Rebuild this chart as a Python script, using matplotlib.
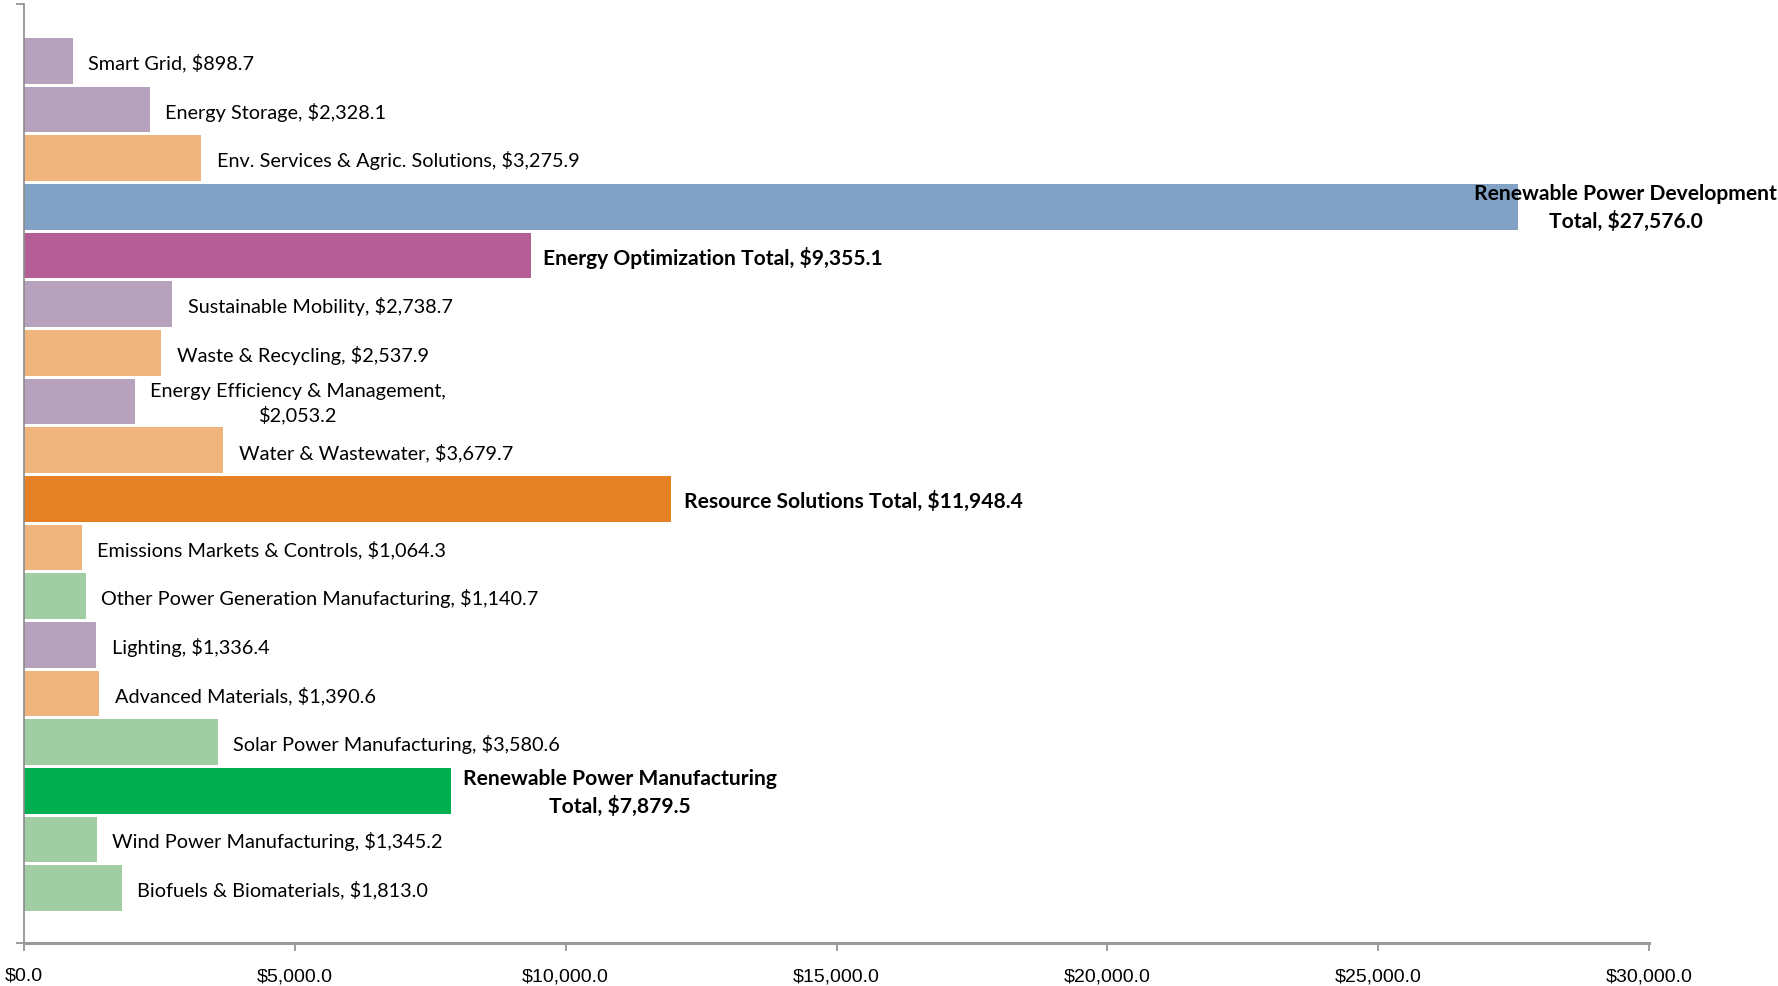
"""Green economy segment sizes, horizontal bar chart."""

import matplotlib
matplotlib.use("Agg")
import matplotlib.pyplot as plt
from matplotlib.ticker import FuncFormatter

# top to bottom, as shown in the chart
labels = [
    "Smart Grid",
    "Energy Storage",
    "Env. Services & Agric. Solutions",
    "Renewable Power Development\nTotal",
    "Energy Optimization Total",
    "Sustainable Mobility",
    "Waste & Recycling",
    "Energy Efficiency & Management,\n",
    "Water & Wastewater",
    "Resource Solutions Total",
    "Emissions Markets & Controls",
    "Other Power Generation Manufacturing",
    "Lighting",
    "Advanced Materials",
    "Solar Power Manufacturing",
    "Renewable Power Manufacturing\nTotal",
    "Wind Power Manufacturing",
    "Biofuels & Biomaterials",
]
values = [898.7, 2328.1, 3275.9, 27576.0, 9355.1, 2738.7, 2537.9, 2053.2, 3679.7,
          11948.4, 1064.3, 1140.7, 1336.4, 1390.6, 3580.6, 7879.5, 1345.2, 1813.0]
groups = ["opt", "opt", "res", "rpd_total", "opt_total", "opt", "res", "opt", "res",
          "res_total", "res", "rpm", "opt", "res", "rpm", "rpm_total", "rpm", "rpm"]
x_ticks = [0, 5000, 10000, 15000, 20000, 25000, 30000]

colors = {
    "opt": "#B7A2BD",
    "res": "#F0B47D",
    "rpm": "#A1CDA2",
    "rpd_total": "#82A2C5",
    "opt_total": "#B45E95",
    "res_total": "#E68024",
    "rpm_total": "#00B050",
}

LABEL_FONT = ["Lato", "DejaVu Sans"]
TICK_FONT = ["Liberation Sans Narrow", "Liberation Sans", "DejaVu Sans"]


def money(v):
    return f"${v:,.1f}"


def main():
    fig = plt.figure(figsize=(17.78, 9.86), dpi=100)
    ax = fig.add_axes([24 / 1778, 1 - 943 / 986, (1649 - 24) / 1778, (943 - 4) / 986])

    n = len(values)
    ypos = list(range(n - 1, -1, -1))
    ax.barh(ypos, values, height=0.94, color=[colors[g] for g in groups],
            edgecolor="none")

    for y, lab, v, g in zip(ypos, labels, values, groups):
        bold = g.endswith("_total")
        if lab.endswith("\n"):
            txt = lab + money(v)
        else:
            txt = f"{lab}, {money(v)}"
        kw = dict(va="center", fontsize=15.1 if bold else 14.3, family=LABEL_FONT,
                  fontweight="bold" if bold else "normal",
                  multialignment="center", linespacing=1.4, color="black")
        if g == "rpd_total":
            # Too long to fit after the bar: pinned to the right edge
            ax.annotate(txt, xy=(0.9995, y - 0.03), xycoords=("figure fraction", "data"),
                        ha="right", annotation_clip=False, **kw)
        else:
            ax.annotate(txt, xy=(v, y - 0.05), xytext=(9 if bold else 11, 0),
                        textcoords="offset points", ha="left", **kw)

    ax.set_xlim(0, 30000)
    ax.set_ylim(-1.13, n - 1 + 1.17)
    ax.set_xticks(x_ticks)
    ax.xaxis.set_major_formatter(FuncFormatter(lambda v, _: money(v)))
    ax.set_yticks(ax.get_ylim())
    ax.set_yticklabels([])

    for s in ("top", "right"):
        ax.spines[s].set_visible(False)
    ax.spines["left"].set_color("#8C8C8C")
    ax.spines["left"].set_linewidth(1.2)
    ax.spines["bottom"].set_color("#9A9A9A")
    ax.spines["bottom"].set_linewidth(2.2)
    ax.tick_params(axis="both", direction="out", length=6, width=1.2, color="#8C8C8C")
    ax.tick_params(axis="x", pad=12, labelsize=14)
    for t in ax.get_xticklabels():
        t.set_family(TICK_FONT)

    fig.savefig("out.png", dpi=100)


if __name__ == "__main__":
    main()
